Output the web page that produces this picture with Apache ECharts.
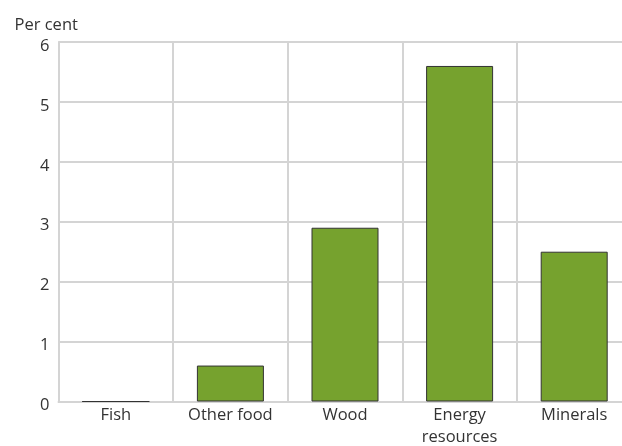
<!DOCTYPE html>
<html>
<head>
<meta charset="utf-8">
<script src="https://cdn.jsdelivr.net/npm/echarts@6/dist/echarts.min.js"></script>
<style>
  html, body { margin: 0; padding: 0; background: #fff; }
  #chart { width: 622px; height: 446px; }
</style>
</head>
<body>
<div id="chart"></div>
<script>
const categories = ['Fish', 'Other food', 'Wood', 'Energy\nresources', 'Minerals'];
const values = [0, 0.6, 2.9, 5.6, 2.5];
const yTicks = [0, 1, 2, 3, 4, 5, 6];

const font = '"Open Sans", "Noto Sans", sans-serif';
const chart = echarts.init(document.getElementById('chart'));
chart.setOption({
  animation: false,
  textStyle: { fontFamily: font },
  grid: { left: 58.5, top: 42, width: 573, height: 359.5, containLabel: false, outerBoundsMode: 'none' },
  xAxis: {
    type: 'category',
    data: categories,
    boundaryGap: true,
    axisLine: { show: true, lineStyle: { color: '#d4d4d4', width: 2 } },
    axisTick: { show: false },
    splitLine: { show: true, lineStyle: { color: '#d4d4d4', width: 2 } },
    axisLabel: { color: '#333', fontSize: 16.5, fontFamily: font, margin: 3, lineHeight: 22, interval: 0 }
  },
  yAxis: {
    type: 'value',
    min: yTicks[0],
    max: yTicks[yTicks.length - 1],
    interval: 1,
    name: 'Per cent',
    nameLocation: 'end',
    nameGap: 8,
    nameTextStyle: { color: '#333', fontSize: 16.5, fontFamily: font, align: 'left', padding: [0, 0, 0, -44] },
    axisLine: { show: true, lineStyle: { color: '#d4d4d4', width: 2 } },
    axisTick: { show: false },
    splitLine: { show: true, lineStyle: { color: '#d4d4d4', width: 2 } },
    axisLabel: {
      color: '#333', fontSize: 16.5, fontFamily: font, margin: 9,
      formatter: v => '{t|' + v + '}',
      rich: { t: { color: '#333', fontSize: 16.5, fontFamily: font, padding: [8, 0, 0, 0] } }
    }
  },
  series: [{
    type: 'bar',
    data: values,
    barWidth: 67,
    itemStyle: { color: '#76a22e', borderColor: '#333', borderWidth: 1 }
  }]
});
</script>
</body>
</html>
